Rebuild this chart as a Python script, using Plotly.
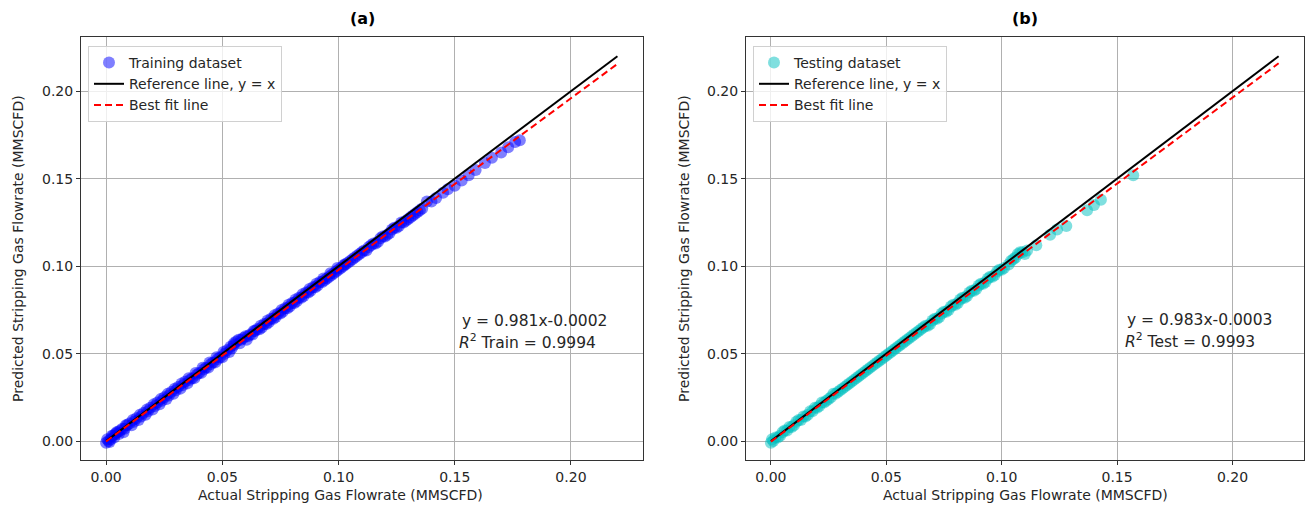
import plotly.graph_objects as go

# ---- data ----
train_actual = [0.000, 0.001, 0.002, 0.003, 0.004, 0.005, 0.006, 0.008, 0.009, 0.010,
                0.012, 0.013, 0.015, 0.016, 0.018, 0.019, 0.021, 0.022, 0.024, 0.025,
                0.027, 0.028, 0.030, 0.031, 0.033, 0.034, 0.036, 0.037, 0.039, 0.040,
                0.042, 0.043, 0.045, 0.046, 0.048, 0.049, 0.051, 0.052, 0.054, 0.055,
                0.056, 0.058, 0.059, 0.061, 0.062, 0.064, 0.065, 0.067, 0.068, 0.070,
                0.071, 0.073, 0.074, 0.076, 0.077, 0.079, 0.080, 0.082, 0.083, 0.085,
                0.086, 0.088, 0.089, 0.091, 0.092, 0.094, 0.095, 0.097, 0.098, 0.100,
                0.101, 0.103, 0.104, 0.106, 0.108, 0.110, 0.112, 0.114, 0.116, 0.118,
                0.120, 0.122, 0.124, 0.126, 0.128, 0.130, 0.132, 0.134, 0.136, 0.138,
                0.140, 0.142, 0.145, 0.147, 0.150, 0.153, 0.156, 0.159, 0.163, 0.166,
                0.170, 0.173, 0.176, 0.178,
                0.0005, 0.0015, 0.0025, 0.0035, 0.0045, 0.0055, 0.0070, 0.0075, 0.0085, 0.0110,
                0.0115, 0.0140, 0.0145, 0.0170, 0.0175, 0.0200, 0.0205, 0.0230, 0.0235, 0.0260,
                0.0265, 0.0290, 0.0295, 0.0320, 0.0325, 0.0350, 0.0355, 0.0380, 0.0385, 0.0410,
                0.0415, 0.0440, 0.0445, 0.0470, 0.0475, 0.0500, 0.0505, 0.0530, 0.0535, 0.0550,
                0.0570, 0.0575, 0.0600, 0.0605, 0.0630, 0.0635, 0.0660, 0.0665, 0.0690, 0.0695,
                0.0720, 0.0725, 0.0750, 0.0755, 0.0780, 0.0785, 0.0810, 0.0815, 0.0840, 0.0845,
                0.0870, 0.0875, 0.0900, 0.0905, 0.0930, 0.0935, 0.0960, 0.0965, 0.0990, 0.0995,
                0.1020, 0.1025, 0.1050, 0.1070, 0.1090, 0.1110, 0.1130, 0.1150, 0.1170, 0.1190,
                0.1210, 0.1230, 0.1250, 0.1270, 0.1290, 0.1310, 0.1330, 0.1350]
train_pred = [-0.001, 0.000, 0.001, 0.003, 0.004, 0.005, 0.006, 0.007, 0.009, 0.010,
              0.011, 0.013, 0.014, 0.016, 0.017, 0.019, 0.020, 0.022, 0.023, 0.025,
              0.026, 0.028, 0.029, 0.031, 0.032, 0.034, 0.035, 0.036, 0.038, 0.039,
              0.041, 0.042, 0.044, 0.045, 0.047, 0.048, 0.050, 0.052, 0.053, 0.055,
              0.057, 0.058, 0.059, 0.060, 0.061, 0.063, 0.064, 0.065, 0.067, 0.068,
              0.070, 0.071, 0.073, 0.074, 0.076, 0.077, 0.079, 0.080, 0.082, 0.083,
              0.085, 0.086, 0.088, 0.089, 0.091, 0.092, 0.093, 0.095, 0.096, 0.098,
              0.099, 0.101, 0.102, 0.104, 0.106, 0.108, 0.109, 0.112, 0.113, 0.116,
              0.117, 0.119, 0.122, 0.123, 0.125, 0.127, 0.129, 0.131, 0.133, 0.137,
              0.137, 0.139, 0.142, 0.144, 0.146, 0.149, 0.152, 0.155, 0.159, 0.162,
              0.165, 0.168, 0.171, 0.172,
              0.0010, -0.0005, 0.0030, 0.0020, 0.0050, 0.0040, 0.0070, 0.0050, 0.0090, 0.0090,
              0.0120, 0.0120, 0.0150, 0.0150, 0.0180, 0.0180, 0.0210, 0.0210, 0.0240, 0.0240,
              0.0270, 0.0270, 0.0300, 0.0300, 0.0330, 0.0330, 0.0360, 0.0360, 0.0390, 0.0390,
              0.0420, 0.0420, 0.0450, 0.0450, 0.0480, 0.0480, 0.0510, 0.0510, 0.0540, 0.0560,
              0.0580, 0.0560, 0.0600, 0.0580, 0.0610, 0.0630, 0.0640, 0.0660, 0.0670, 0.0690,
              0.0700, 0.0720, 0.0730, 0.0750, 0.0760, 0.0780, 0.0790, 0.0810, 0.0820, 0.0840,
              0.0850, 0.0870, 0.0880, 0.0900, 0.0910, 0.0930, 0.0940, 0.0960, 0.0970, 0.0990,
              0.1000, 0.1010, 0.1030, 0.1050, 0.1070, 0.1090, 0.1110, 0.1130, 0.1140, 0.1170,
              0.1180, 0.1210, 0.1220, 0.1250, 0.1260, 0.1280, 0.1300, 0.1320]

test_actual = [0.000, 0.001, 0.002, 0.004, 0.005, 0.007, 0.008, 0.010, 0.011, 0.013,
               0.014, 0.016, 0.018, 0.019, 0.021, 0.023, 0.024, 0.026, 0.028, 0.029,
               0.031, 0.033, 0.035, 0.036, 0.038, 0.040, 0.042, 0.044, 0.046, 0.048,
               0.050, 0.052, 0.054, 0.056, 0.058, 0.060, 0.062, 0.064, 0.066, 0.068,
               0.070, 0.072, 0.074, 0.076, 0.078, 0.080, 0.082, 0.084, 0.086, 0.088,
               0.090, 0.092, 0.094, 0.096, 0.098, 0.100, 0.103, 0.105, 0.107, 0.109,
               0.111, 0.115, 0.121, 0.124, 0.128, 0.137, 0.140, 0.143, 0.157,
               0.0005, 0.003, 0.006, 0.009, 0.012, 0.015, 0.017, 0.020, 0.022, 0.025,
               0.027, 0.030, 0.032, 0.034, 0.037, 0.039, 0.041, 0.043, 0.045, 0.047,
               0.049, 0.051, 0.053, 0.055, 0.057, 0.059, 0.061, 0.063, 0.065, 0.067,
               0.069, 0.071, 0.073, 0.075, 0.077, 0.079, 0.081, 0.083, 0.085, 0.087,
               0.089, 0.091, 0.093, 0.095, 0.097, 0.099, 0.101, 0.104, 0.106, 0.108,
               0.110]
test_pred = [-0.001, 0.000, 0.002, 0.003, 0.005, 0.006, 0.008, 0.009, 0.011, 0.012,
             0.014, 0.015, 0.017, 0.019, 0.020, 0.022, 0.023, 0.025, 0.027, 0.028,
             0.030, 0.032, 0.034, 0.035, 0.037, 0.039, 0.041, 0.043, 0.045, 0.047,
             0.049, 0.051, 0.053, 0.055, 0.057, 0.059, 0.061, 0.063, 0.065, 0.066,
             0.069, 0.070, 0.073, 0.074, 0.077, 0.078, 0.081, 0.082, 0.085, 0.086,
             0.089, 0.090, 0.093, 0.094, 0.097, 0.098, 0.101, 0.104, 0.107, 0.108,
             0.109, 0.112, 0.118, 0.121, 0.123, 0.132, 0.135, 0.138, 0.152,
             0.001, 0.002, 0.006, 0.008, 0.012, 0.014, 0.017, 0.019, 0.022, 0.024,
             0.027, 0.029, 0.031, 0.033, 0.036, 0.038, 0.040, 0.042, 0.044, 0.046,
             0.048, 0.050, 0.052, 0.054, 0.056, 0.058, 0.060, 0.062, 0.064, 0.066,
             0.067, 0.070, 0.071, 0.074, 0.075, 0.078, 0.079, 0.082, 0.083, 0.086,
             0.087, 0.090, 0.091, 0.094, 0.095, 0.098, 0.099, 0.103, 0.105, 0.108,
             0.107]

line_x = [0.0, 0.22]
ref_y = [0.0, 0.22]
fit_train_y = [-0.0002, 0.2156]
fit_test_y = [-0.0003, 0.2160]

tick_vals = [0.00, 0.05, 0.10, 0.15, 0.20]
tick_text = ["0.00", "0.05", "0.10", "0.15", "0.20"]

FONT = "DejaVu Sans"
TXT = "#262626"

fig = go.Figure()

# ---- panel (a) ----
fig.add_trace(go.Scatter(x=train_actual, y=train_pred, mode="markers",
                         name="Training dataset", legend="legend",
                         marker=dict(color="rgba(0,0,255,0.5)", size=12, line=dict(width=0)),
                         xaxis="x", yaxis="y"))
fig.add_trace(go.Scatter(x=line_x, y=ref_y, mode="lines", name="Reference line, y = x",
                         legend="legend", line=dict(color="black", width=2),
                         xaxis="x", yaxis="y"))
fig.add_trace(go.Scatter(x=line_x, y=fit_train_y, mode="lines", name="Best fit line",
                         legend="legend", line=dict(color="red", width=2, dash="7px,4px"),
                         xaxis="x", yaxis="y"))

# ---- panel (b) ----
fig.add_trace(go.Scatter(x=test_actual, y=test_pred, mode="markers",
                         name="Testing dataset", legend="legend2",
                         marker=dict(color="rgba(0,191,191,0.5)", size=12, line=dict(width=0)),
                         xaxis="x2", yaxis="y2"))
fig.add_trace(go.Scatter(x=line_x, y=ref_y, mode="lines", name="Reference line, y = x",
                         legend="legend2", line=dict(color="black", width=2),
                         xaxis="x2", yaxis="y2"))
fig.add_trace(go.Scatter(x=line_x, y=fit_test_y, mode="lines", name="Best fit line",
                         legend="legend2", line=dict(color="red", width=2, dash="7px,4px"),
                         xaxis="x2", yaxis="y2"))

W, H = 1311, 509
Y0, Y1 = 1 - 460 / H, 1 - 37 / H

axis_common = dict(showline=True, linecolor="#333333", linewidth=1, mirror=True,
                   showgrid=True, gridcolor="#b0b0b0", gridwidth=1, zeroline=False,
                   ticks="outside", ticklen=4, tickcolor="#333333",
                   tickvals=tick_vals, ticktext=tick_text,
                   tickfont=dict(family=FONT, size=14, color=TXT))
rng = [-0.0108, 0.2310]

legend_common = dict(bgcolor="rgba(255,255,255,0.8)", bordercolor="#d0d0d0", borderwidth=1,
                     font=dict(family=FONT, size=14, color=TXT), xanchor="left", yanchor="top",
                     tracegroupgap=0)

fig.update_layout(
    width=W, height=H, margin=dict(l=0, r=0, t=0, b=0),
    paper_bgcolor="white", plot_bgcolor="white",
    xaxis=dict(domain=[81 / W, 643 / W], range=rng, anchor="y", **axis_common),
    yaxis=dict(domain=[Y0, Y1], range=rng, anchor="x", **axis_common),
    xaxis2=dict(domain=[746 / W, 1304 / W], range=rng, anchor="y2", **axis_common),
    yaxis2=dict(domain=[Y0, Y1], range=rng, anchor="x2", **axis_common),
    legend=dict(x=88 / W, y=1 - 46 / H, **legend_common),
    legend2=dict(x=753 / W, y=1 - 46 / H, **legend_common),
    showlegend=True,
)

ann = []
def txt(x, y, s, size=14, bold=False, xanchor="center", angle=0):
    ann.append(dict(x=x / W, y=1 - y / H, xref="paper", yref="paper", text=s,
                    showarrow=False, xanchor=xanchor, yanchor="middle", textangle=angle,
                    font=dict(family=FONT, size=size, color=TXT if not bold else "black")))

txt(362, 18, "<b>(a)</b>", size=16, bold=True)
txt(1025, 18, "<b>(b)</b>", size=16, bold=True)
txt(340, 495, "Actual Stripping Gas Flowrate (MMSCFD)")
txt(1025, 495, "Actual Stripping Gas Flowrate (MMSCFD)")
txt(18, 249, "Predicted Stripping Gas Flowrate (MMSCFD)", angle=-90)
txt(684, 249, "Predicted Stripping Gas Flowrate (MMSCFD)", angle=-90)
txt(460, 321, "y = 0.981x-0.0002", size=15.5, xanchor="left")
txt(457, 341, "<i>R</i><sup>2</sup> Train = 0.9994", size=15.5, xanchor="left")
txt(1125, 320, "y = 0.983x-0.0003", size=15.5, xanchor="left")
txt(1123, 340, "<i>R</i><sup>2</sup> Test = 0.9993", size=15.5, xanchor="left")
fig.update_layout(annotations=ann)

fig.write_html("out.html")
